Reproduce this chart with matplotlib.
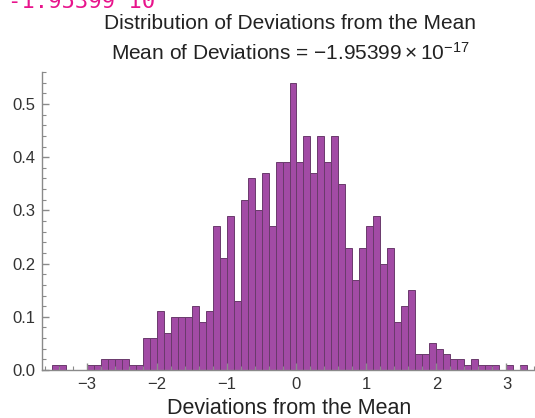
import numpy as np
import matplotlib
matplotlib.use("Agg")
import matplotlib.pyplot as plt
from matplotlib.ticker import MultipleLocator, FormatStrFormatter

plt.rcParams["font.family"] = ["Liberation Sans", "DejaVu Sans"]
plt.rcParams["mathtext.fontset"] = "custom"
plt.rcParams["mathtext.rm"] = "Liberation Sans"
plt.rcParams["mathtext.it"] = "Liberation Sans:italic"

# histogram: left bin edges (width 0.1) and density heights
bin_left = np.round(np.arange(-3.5, 3.25, 0.1), 1)
heights = [
    0.01, 0.01, 0.00, 0.00, 0.00, 0.01, 0.01, 0.02, 0.02, 0.02,
    0.02, 0.01, 0.01, 0.06, 0.06, 0.11, 0.07, 0.10, 0.10, 0.10,
    0.12, 0.09, 0.11, 0.27, 0.21, 0.29, 0.13, 0.32, 0.36, 0.30,
    0.37, 0.27, 0.39, 0.39, 0.54, 0.39, 0.44, 0.37, 0.44, 0.39,
    0.44, 0.35, 0.23, 0.17, 0.23, 0.27, 0.29, 0.20, 0.23, 0.09,
    0.12, 0.15, 0.03, 0.03, 0.05, 0.04, 0.03, 0.02, 0.02, 0.01,
    0.02, 0.01, 0.01, 0.01, 0.00, 0.01, 0.00, 0.01,
]
bin_width = 0.1

title1 = "Distribution of Deviations from the Mean"
title2 = r"Mean of Deviations = $-1.95399\times10^{-17}$"
xlabel = "Deviations from the Mean"

fig = plt.figure(figsize=(5.35, 4.18), dpi=100)
ax = fig.add_axes([42 / 535, 48 / 418, 495 / 535, 298 / 418])

h = np.array(heights)
mask = h > 0
ax.bar(bin_left[mask], h[mask], width=bin_width, align="edge",
       color="#A24BA5", edgecolor="#6A3A6C", linewidth=0.7)

ax.set_xlim(-3.636, 3.436)
ax.set_ylim(0, 0.56)

for s in ["top", "right"]:
    ax.spines[s].set_visible(False)
for s in ["left", "bottom"]:
    ax.spines[s].set_color("#8a8a8a")
    ax.spines[s].set_linewidth(1.0)

ax.xaxis.set_major_locator(MultipleLocator(1))
ax.xaxis.set_minor_locator(MultipleLocator(0.2))
ax.yaxis.set_major_locator(MultipleLocator(0.1))
ax.yaxis.set_minor_locator(MultipleLocator(0.02))
ax.yaxis.set_major_formatter(FormatStrFormatter("%.1f"))

ax.tick_params(which="both", direction="in", color="#8a8a8a", labelcolor="#333333",
               labelsize=12)
ax.tick_params(which="major", length=5, width=1.0, pad=5)
ax.tick_params(which="minor", length=3, width=0.8)

ax.set_xlabel(xlabel, fontsize=15.5, color="#222222", labelpad=4)

fig.text(290 / 535, 1 - 29 / 418, title1, ha="center", va="baseline",
         fontsize=15, color="#222222")
fig.text(290 / 535, 1 - 60 / 418, title2, ha="center", va="baseline",
         fontsize=15, color="#222222")

# leftover output line from the notebook, cut off at the top edge as in the reference
fig.text(8 / 535, 1 - 8 / 418, "-1.95399 10", ha="left", va="baseline",
         fontsize=16, color="#E8148C", family="DejaVu Sans Mono")

fig.savefig("out.png", dpi=100)
